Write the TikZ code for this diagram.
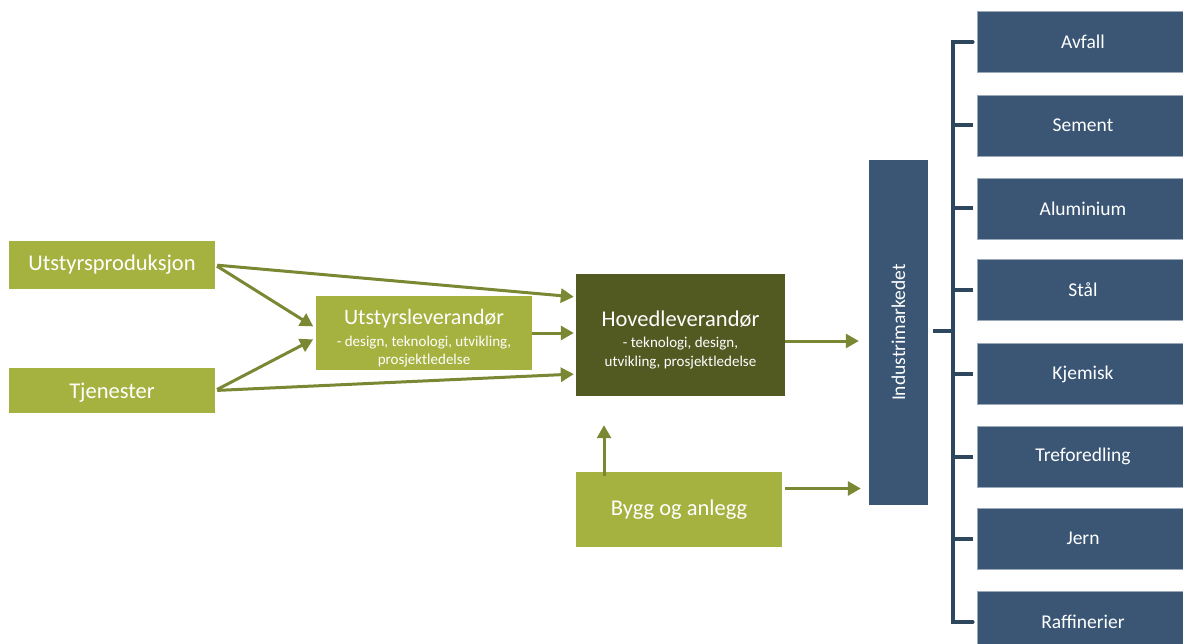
\documentclass[tikz,border=0pt]{standalone}
\usepackage{fontspec}
\setmainfont{Carlito}
\usetikzlibrary{arrows.meta,calc}
\definecolor{lgreen}{HTML}{A5B240}
\definecolor{dgreen}{HTML}{525A22}
\definecolor{agreen}{HTML}{7A8733}
\definecolor{mblue}{HTML}{3A5674}
\definecolor{bblue}{HTML}{2F465F}
\definecolor{eblue}{HTML}{9AA9BA}
\tikzset{
  lbox/.style={fill=lgreen, text=white, inner sep=0pt, align=center, anchor=center},
  dbox/.style={fill=dgreen, text=white, inner sep=0pt, align=center, anchor=center},
  mbox/.style={fill=mblue, draw=eblue, line width=0.8pt, text=white, inner sep=0pt, minimum width=212pt, minimum height=61pt, font=\fontsize{19.5}{23}\selectfont},
  bigtxt/.style={font=\fontsize{22.5}{27}\selectfont},
  subtxt/.style={font=\fontsize{15}{18.5}\selectfont},
  arr/.style={draw=agreen, line width=3pt, -{Triangle[length=13pt,width=14pt]}},
  brk/.style={draw=bblue, line width=4pt}
}
\begin{document}
\begin{tikzpicture}[x=1pt,y=-1pt]
\useasboundingbox (0,0) rectangle (1183,644);
% left column
\node[lbox, bigtxt, minimum width=206pt, minimum height=48pt] (prod) at (112,265) {Utstyrsproduksjon};
\node[lbox, bigtxt, minimum width=206pt, minimum height=45pt] (tjen) at (112,390.5) {\rule{0pt}{19pt}Tjenester};
\node[lbox, subtxt, minimum width=216pt, minimum height=74pt] (utst) at (424,333)
  {{\fontsize{22}{25}\selectfont\rule{0pt}{26pt}Utstyrsleverandør}\\[3pt]- design, teknologi, utvikling,\\prosjektledelse};
\node[dbox, subtxt, minimum width=209pt, minimum height=122pt] (hoved) at (680.5,335)
  {{\fontsize{22.5}{26}\selectfont\rule{0pt}{25pt}Hovedleverandør}\\[3pt]- teknologi, design,\\utvikling, prosjektledelse};
\node[lbox, bigtxt, minimum width=206pt, minimum height=75pt] (bygg) at (679,509.5) {Bygg og anlegg};
\node[fill=mblue, inner sep=0pt, minimum width=59pt, minimum height=345pt] (ind) at (898.5,332.5) {};
\node[text=white, rotate=90, font=\fontsize{19.5}{23}\selectfont] (indtxt) at (ind.center) {Industrimarkedet};
% right column
\node[mbox] (avfall) at (1083,42) {Avfall};
\node[mbox] (sement) at (1083,125.5) {Sement};
\node[mbox] (alu) at (1083,208.5) {Aluminium};
\node[mbox] (stal) at (1083,290) {Stål};
\node[mbox] (kjem) at (1083,374) {Kjemisk};
\node[mbox] (tref) at (1083,456.5) {Treforedling};
\node[mbox] (jern) at (1083,538.5) {Jern};
\node[mbox] (raff) at (1083,622) {Raffinerier};
% arrows
\draw[arr, shorten >=3pt, shorten <=2pt] (prod.east) -- ([yshift=5pt]utst.west);
\draw[arr, shorten >=3pt, shorten <=2pt] (tjen.east) -- ([yshift=-5pt]utst.west);
\draw[arr, shorten >=2pt, shorten <=2pt] (prod.east) -- ([yshift=38pt]hoved.west);
\draw[arr, shorten >=2pt, shorten <=2pt] (tjen.east) -- ([yshift=-39pt]hoved.west);
\draw[arr, shorten >=2pt] (utst.east) -- (utst.east -| hoved.west);
\draw[arr, shorten >=10pt] ([yshift=-6pt]hoved.east) -- ([yshift=-6pt]hoved.east -| ind.west);
\draw[arr, shorten >=8pt, shorten <=3pt] ([xshift=-75pt,yshift=-7pt]bygg.north) -- ([xshift=-75pt,yshift=-21pt]bygg.north |- hoved.south);
\draw[arr, shorten >=8pt, shorten <=3pt] ([yshift=21pt]bygg.east) -- ([yshift=21pt]bygg.east -| ind.west);
% bracket
\coordinate (bus) at (953,331);
\draw[brk] ([xshift=5pt]ind.east |- bus) -- (bus);
\draw[brk, line cap=round] ([xshift=-4pt]avfall.west) -- (bus |- avfall.west) -- (bus |- raff.west) -- ([xshift=-4pt]raff.west);
\foreach \n in {sement,alu,stal,kjem,tref,jern}
  \draw[brk] (bus |- \n.west) -- ([xshift=-4pt]\n.west);
\end{tikzpicture}
\end{document}
